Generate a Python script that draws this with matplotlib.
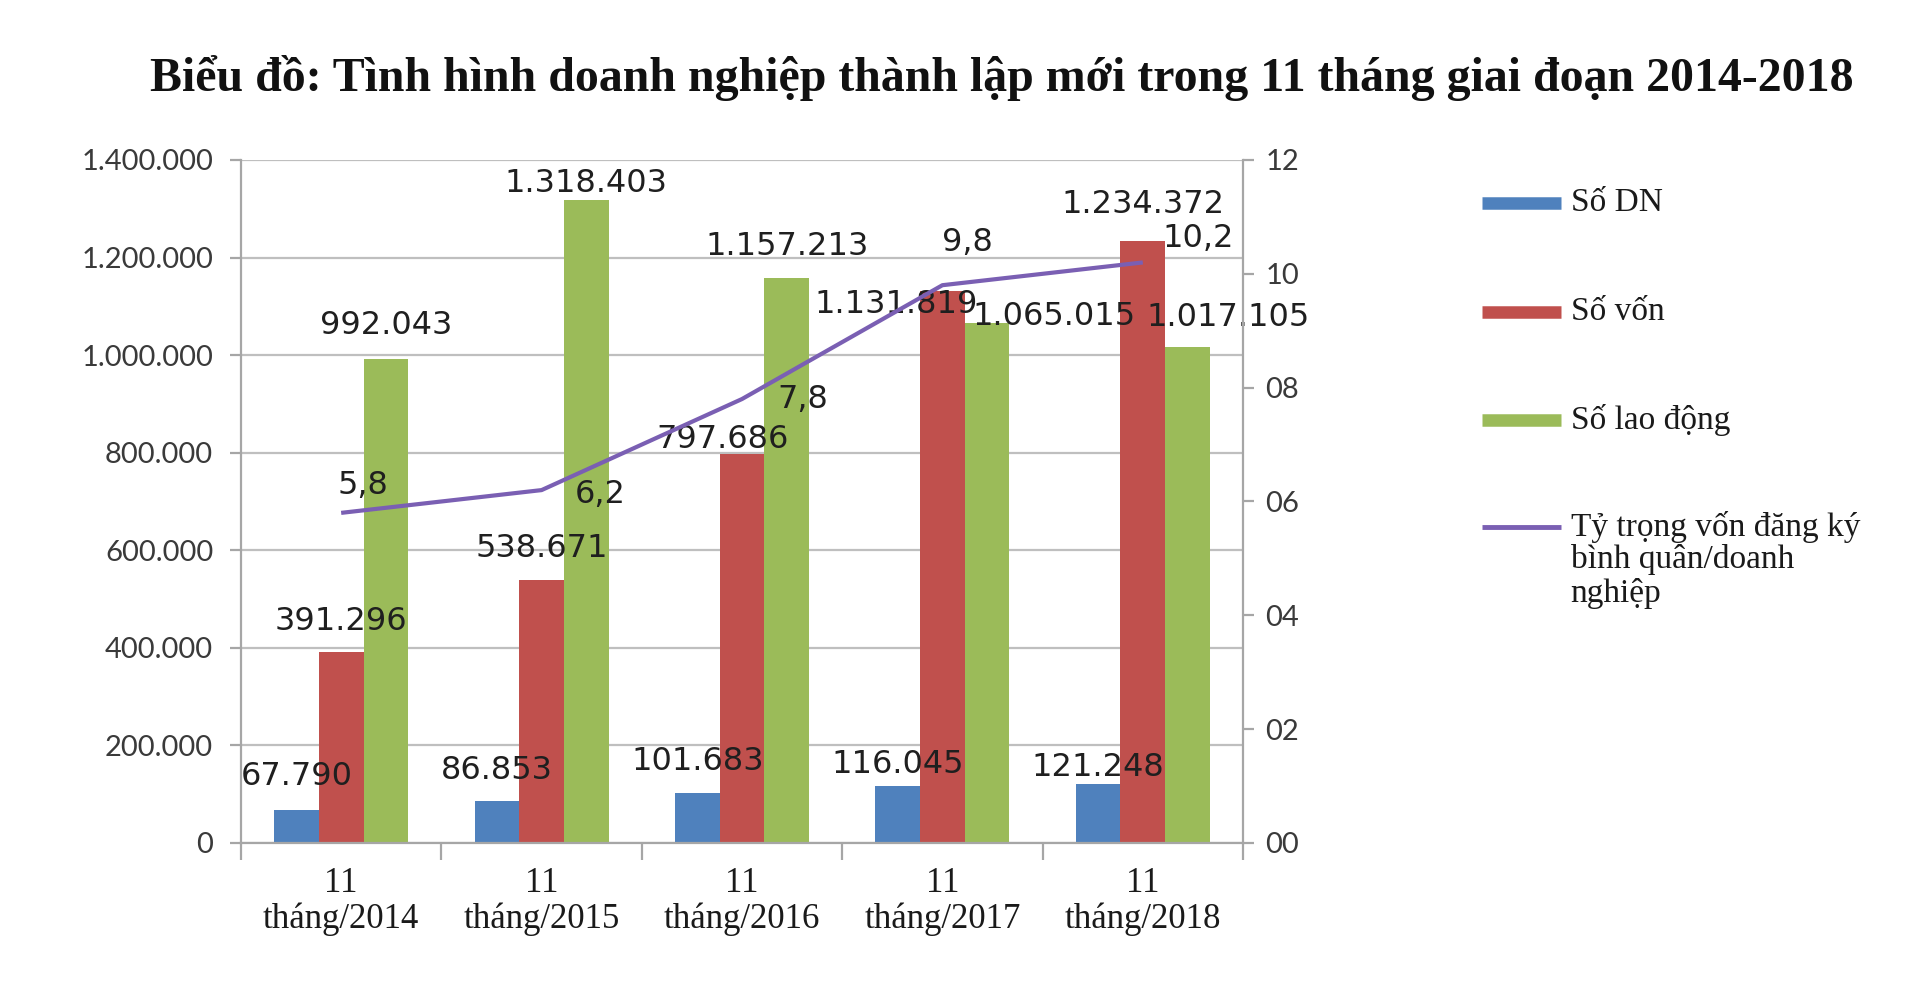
import matplotlib
matplotlib.use("Agg")
import matplotlib.pyplot as plt
from matplotlib.ticker import FuncFormatter, MultipleLocator, FixedLocator
from matplotlib.lines import Line2D
import numpy as np

# ---------------- data ----------------
categories = ["11\ntháng/2014", "11\ntháng/2015", "11\ntháng/2016",
              "11\ntháng/2017", "11\ntháng/2018"]
so_dn = [67790, 86853, 101683, 116045, 121248]
so_von = [391296, 538671, 797686, 1131819, 1234372]
so_lao_dong = [992043, 1318403, 1157213, 1065015, 1017105]
ty_trong = [5.8, 6.2, 7.8, 9.8, 10.2]
series_names = ["Số DN", "Số vốn", "Số lao động",
                "Tỷ trọng vốn đăng ký\nbình quân/doanh\nnghiệp"]
title = "Biểu đồ: Tình hình doanh nghiệp thành lập mới trong 11 tháng giai đoạn 2014-2018"

# ---------------- style ----------------
c_blue, c_red, c_green, c_purple = "#4F81BD", "#C0504D", "#9BBB59", "#7A5FB3"
grid_c = "#BFBFBF"
serif = "Liberation Serif"
label_font = "DejaVu Sans"
tick_font = "Lato"

# label offsets (points) relative to mark top
dn_off = [(0, 24), (0, 22), (0, 23), (0, 16), (0, 12)]
von_off = [(0, 22), (0, 23), (-14, 10), (-33, -10), (0, 26)]
ld_off = [(0, 24), (0, 11.5), (0, 23), (48, 5), (29, 21)]
tt_off = [(16, 20), (42, -3), (44, 0), (18, 31), (40, 17)]


def fmt_int(v, pos=None):
    return f"{v:,.0f}".replace(",", ".")


def fmt_dec(v):
    return f"{v:.1f}".replace(".", ",")


fig = plt.figure(figsize=(19.2, 9.9), dpi=100)
ax = fig.add_axes([0.1255, 0.1485, 0.5219, 0.6899])

x = np.arange(len(categories))
w = 0.223
ax.bar(x - w, so_dn, w, color=c_blue, zorder=2)
ax.bar(x, so_von, w, color=c_red, zorder=2)
ax.bar(x + w, so_lao_dong, w, color=c_green, zorder=2)

ax.set_xlim(-0.5, len(categories) - 0.5)
ax.set_ylim(0, 1400000)
ax.yaxis.set_major_locator(MultipleLocator(200000))
ax.yaxis.set_major_formatter(FuncFormatter(fmt_int))
ax.grid(axis="y", color=grid_c, lw=1.6)
ax.set_axisbelow(True)

for s in ["top", "right"]:
    ax.spines[s].set_visible(False)
for s in ["left", "bottom"]:
    ax.spines[s].set_color("#A6A6A6")
    ax.spines[s].set_linewidth(1.6)

ax.set_xticks(x)
ax.set_xticklabels(categories, fontsize=25, family=serif, color="#1a1a1a",
                   linespacing=1.1)
ax.tick_params(axis="x", which="major", length=0, pad=17)
ax.xaxis.set_minor_locator(FixedLocator(np.arange(-0.5, len(categories), 1.0)))
ax.tick_params(axis="x", which="minor", length=12, width=1.6, color="#A6A6A6")
ax.tick_params(axis="y", length=8, width=1.6, color="#A6A6A6", pad=12,
               labelsize=21, labelcolor="#3a3a3a")
for t in ax.get_yticklabels():
    t.set_family(tick_font)

# bar labels
for i in range(len(categories)):
    for xs, vals, offs in [(x - w, so_dn, dn_off), (x, so_von, von_off),
                           (x + w, so_lao_dong, ld_off)]:
        ax.annotate(fmt_int(vals[i]), xy=(xs[i], vals[i]), xytext=offs[i],
                    textcoords="offset points", ha="center", va="center",
                    fontsize=23, family=label_font, color="#1f1f1f", zorder=5)

# secondary axis + line
ax2 = ax.twinx()
ax2.set_ylim(0, 12)
ax2.yaxis.set_major_locator(MultipleLocator(2))
ax2.yaxis.set_major_formatter(FuncFormatter(lambda v, p: f"{int(round(v)):02d}"))
for s in ["top", "left", "bottom"]:
    ax2.spines[s].set_visible(False)
ax2.spines["right"].set_color("#A6A6A6")
ax2.spines["right"].set_linewidth(1.6)
ax2.tick_params(axis="y", length=8, width=1.6, color="#A6A6A6", pad=8,
                labelsize=21, labelcolor="#3a3a3a")
for t in ax2.get_yticklabels():
    t.set_family(tick_font)

ax2.plot(x, ty_trong, color=c_purple, lw=3, solid_capstyle="butt", zorder=3)
for i in range(len(categories)):
    ax2.annotate(fmt_dec(ty_trong[i]), xy=(x[i], ty_trong[i]), xytext=tt_off[i],
                 textcoords="offset points", ha="center", va="center",
                 fontsize=23, family=label_font, color="#1f1f1f", zorder=6)

# title
fig.text(0.522, 0.921, title, ha="center", va="center", fontsize=34.5,
         fontweight="bold", family=serif, color="#111111")

# legend (manual, handle aligned with first text line)
leg_colors = [c_blue, c_red, c_green, c_purple]
leg_lw = [9, 9, 9, 3.5]
leg_y = [0.795, 0.685, 0.576, 0.468]
line_h = 0.0335
for name, col, lw, yy in zip(series_names, leg_colors, leg_lw, leg_y):
    fig.add_artist(Line2D([0.772, 0.813], [yy, yy], color=col, lw=lw,
                          transform=fig.transFigure, solid_capstyle="butt"))
    for k, line in enumerate(name.split("\n")):
        fig.text(0.818, yy - k * line_h, line, ha="left", va="center",
                 fontsize=24, family=serif, color="#1a1a1a")

fig.savefig("out.png", dpi=100, facecolor="white")
